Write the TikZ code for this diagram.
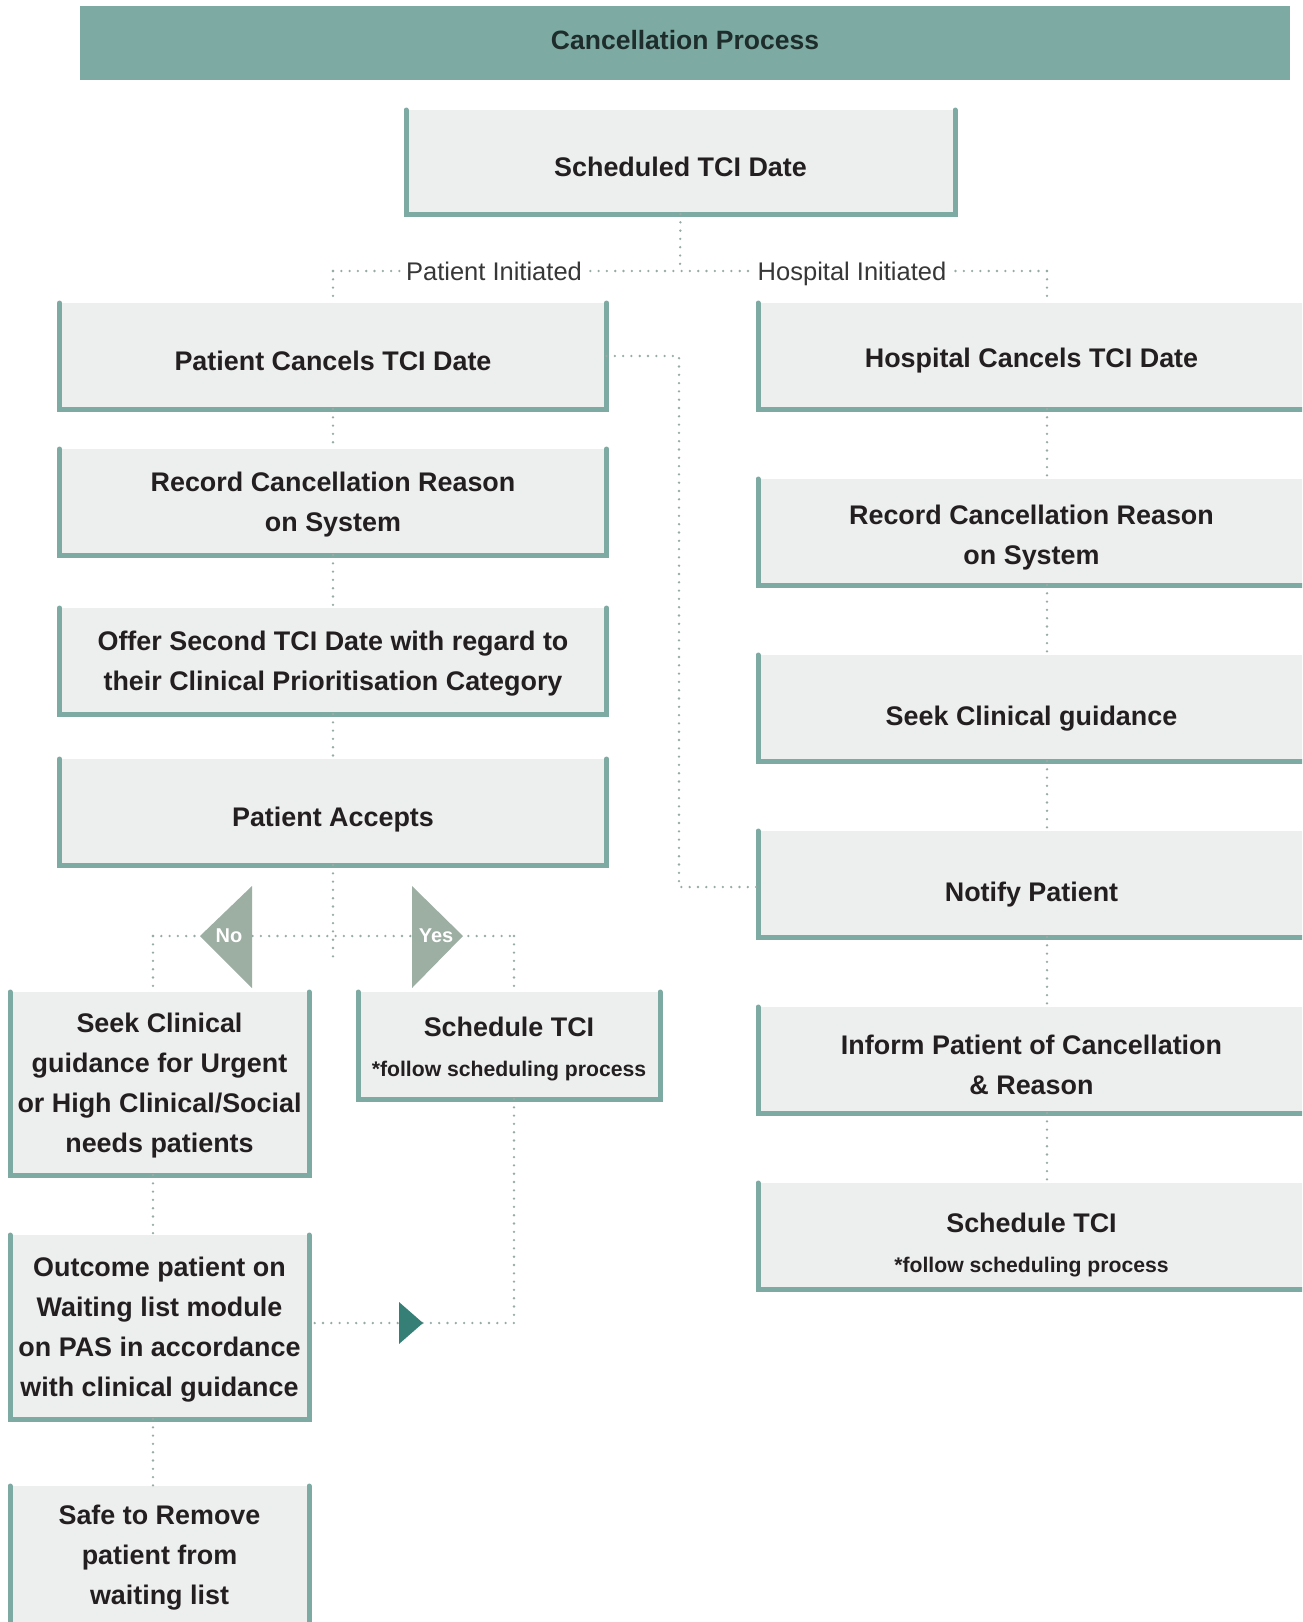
\documentclass[tikz,border=0pt]{standalone}
\usepackage{fontspec}
\setmainfont{Liberation Sans}
\definecolor{teal}{RGB}{125,170,162}
\definecolor{boxfill}{RGB}{237,239,238}
\definecolor{dotc}{RGB}{150,170,166}
\definecolor{tric}{RGB}{157,174,163}
\definecolor{arrowc}{RGB}{53,127,118}
\definecolor{ink}{RGB}{35,31,32}
\definecolor{titleink}{RGB}{30,45,43}
\definecolor{lblink}{RGB}{55,55,55}
\newcommand\bxfont{\fontsize{26.9}{40}\selectfont\bfseries}
\newcommand\ttlfont{\fontsize{26.5}{40}\selectfont\bfseries}
\newcommand\subfont{\fontsize{21.2}{40}\selectfont\bfseries}
% teal border on left, bottom and right of a box
\newcommand\ubord[1]{\draw[border] (#1.north west) -- (#1.south west) -- (#1.south east) -- (#1.north east);}
\begin{document}
\begin{tikzpicture}[x=1pt,y=-1pt]
\tikzset{
  box/.style={fill=boxfill, inner sep=0pt, outer sep=0pt},
  bigbox/.style={box, minimum width=547pt, minimum height=106pt},
  smallbox/.style={box, minimum width=299pt},
  txt/.style={inner sep=0pt, align=center, text=ink, font=\bxfont},
  border/.style={draw=teal, line width=5pt, line cap=round, line join=miter},
  dots/.style={draw=dotc, line width=2.6pt, line cap=round, dash pattern=on 0pt off 8.3pt},
  lbl/.style={fill=white, inner xsep=5pt, inner ysep=2pt, text=lblink, font=\fontsize{25.5}{30}\selectfont},
  tlbl/.style={inner sep=0pt, text=white, font=\fontsize{20}{24}\selectfont\bfseries}
}
\useasboundingbox (0,0) rectangle (1302,1622);
\clip (0,0) rectangle (1302,1622);

% title bar
\node[fill=teal, minimum width=1210pt, minimum height=74pt, inner sep=0pt] (title) at (685,43) {};
\node[txt, text=titleink, font=\ttlfont, yshift=3pt] (titleT) at (title) {Cancellation Process};

% top box
\node[box, minimum width=549pt, minimum height=104pt] (sched) at (680.5,162) {};

% patient initiated column
\node[bigbox] (pc) at (333,356) {};
\node[bigbox] (recL) at (333,502) {};
\node[bigbox] (offer) at (333,661) {};
\node[bigbox] (accepts) at (333,812) {};

% hospital initiated column
\node[bigbox] (hc) at (1031.5,356) {};
\node[bigbox] (recR) at (1031.5,532) {};
\node[bigbox] (seek) at (1031.5,708) {};
\node[bigbox] (notify) at (1031.5,884) {};
\node[bigbox] (inform) at (1031.5,1060) {};
\node[bigbox] (schedR) at (1031.5,1236) {};

% outcome branches
\node[smallbox, minimum height=183pt] (seekU) at (159.5,1083.5) {};
\node[box, minimum width=302pt, minimum height=107pt] (schedM) at (509,1045.5) {};
\node[smallbox, minimum height=184pt] (outcome) at (159.5,1327) {};
\node[smallbox, minimum height=140pt] (safe) at (159.5,1556) {};

\foreach \b in {sched,pc,recL,offer,accepts,hc,recR,seek,notify,inform,schedR,seekU,schedM,outcome,safe}{\ubord{\b}}

% box texts
\node[txt, yshift=-5pt] (schedT) at (sched) {Scheduled TCI Date};
\node[txt, yshift=-5pt] (pcT) at (pc) {Patient Cancels TCI Date};
\node[txt, yshift=-3pt] (recLT) at (recL) {Record Cancellation Reason\\on System};
\node[txt, yshift=-3pt] (offerT) at (offer) {Offer Second TCI Date with regard to\\their Clinical Prioritisation Category};
\node[txt, yshift=-8pt] (acceptsT) at (accepts) {Patient Accepts};
\node[txt, yshift=-5pt] (hcT) at (hc) {Hospital Cancels TCI Date};
\node[txt, yshift=-6pt] (recRT) at (recR) {Record Cancellation Reason\\on System};
\node[txt, yshift=-11pt] (seekT) at (seek) {Seek Clinical guidance};
\node[txt, yshift=-11pt] (notifyT) at (notify) {Notify Patient};
\node[txt, yshift=-5pt] (informT) at (inform) {Inform Patient of Cancellation\\\& Reason};
\node[txt, yshift=-9pt] (schedRT) at (schedR) {Schedule TCI\\{\subfont *follow scheduling process}};
\node[txt, yshift=-2pt] (seekUT) at (seekU) {Seek Clinical\\guidance for Urgent\\or High Clinical/Social\\needs patients};
\node[txt, yshift=-3pt] (schedMT) at (schedM) {Schedule TCI\\{\subfont *follow scheduling process}};
\node[txt, yshift=-3pt] (outcomeT) at (outcome) {Outcome patient on\\Waiting list module\\on PAS in accordance\\with clinical guidance};
\node[txt, yshift=-2pt] (safeT) at (safe) {Safe to Remove\\patient from\\waiting list};

% junction points of the dotted connectors
\coordinate (split) at (680,271);
\coordinate (pcol) at (333,271);
\coordinate (hcol) at (1047,271);
\coordinate (jog) at (679,356);
\coordinate (accEnd) at (333,964);
\coordinate (noL) at (153,936);
\coordinate (yesR) at (514,936);

\draw[dots] (sched.south) -- (split);
\draw[dots] (pcol) -- (hcol);
\draw[dots] (pcol) -- (pc.north);
\draw[dots] (hcol) -- (hc.north -| hcol);

\draw[dots] (pc.south) -- (recL.north);
\draw[dots] (recL.south) -- (offer.north);
\draw[dots] (offer.south) -- (accepts.north);

\draw[dots] (hc.south -| hcol) -- (recR.north -| hcol);
\draw[dots] (recR.south -| hcol) -- (seek.north -| hcol);
\draw[dots] (seek.south -| hcol) -- (notify.north -| hcol);
\draw[dots] (notify.south -| hcol) -- (inform.north -| hcol);
\draw[dots] (inform.south -| hcol) -- (schedR.north -| hcol);

\draw[dots] (pc.east) -- (jog) |- ([yshift=-3pt]notify.west);

\draw[dots] (accepts.south) -- (accEnd);
\draw[dots] (noL) -- (yesR);
\draw[dots] (noL) -- (seekU.north -| noL);
\draw[dots] (yesR) -- (schedM.north -| yesR);
\draw[dots] (seekU.south -| noL) -- (outcome.north -| noL);
\draw[dots] (outcome.south -| noL) -- (safe.north -| noL);
\draw[dots] (schedM.south -| yesR) |- ([yshift=4pt]outcome.east);

% branch labels on the split line
\node[lbl] (plbl) at (494,271) {Patient Initiated};
\node[lbl, yshift=-3pt] (hlbl) at (852,271) {Hospital Initiated};

% decision markers
\fill[tric] (200,936) -- (252,886) -- (252,988) -- cycle;
\fill[tric] (412,886) -- (463,936) -- (412,988) -- cycle;
\node[tlbl] (nolbl) at (229,936) {No};
\node[tlbl] (yeslbl) at (436,936) {Yes};

% flow arrow on the return line
\fill[arrowc] (399,1302) -- (423,1323) -- (399,1344) -- cycle;
\end{tikzpicture}
\end{document}
